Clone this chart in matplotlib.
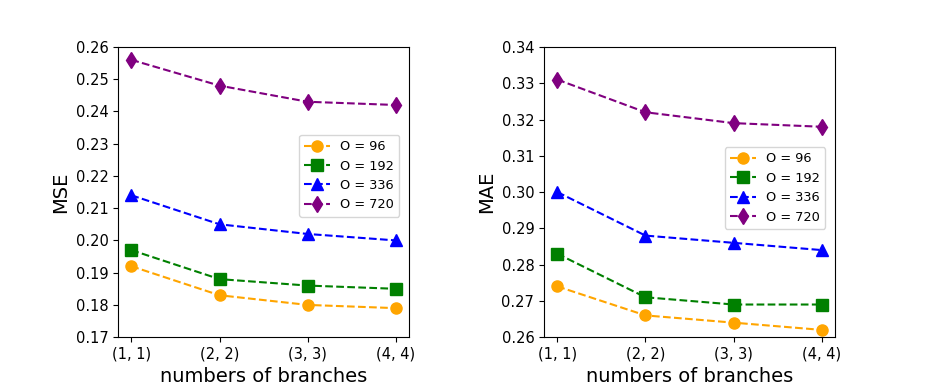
import matplotlib
matplotlib.use('Agg')
import matplotlib.pyplot as plt

branches = ['(1, 1)', '(2, 2)', '(3, 3)', '(4, 4)']
labels = ['O = 96', 'O = 192', 'O = 336', 'O = 720']
colors = ['orange', 'green', 'blue', 'purple']
markers = ['o', 's', '^', 'd']

# MSE values
mse_96 = [0.192, 0.183, 0.180, 0.179]
mse_192 = [0.197, 0.188, 0.186, 0.185]
mse_336 = [0.214, 0.205, 0.202, 0.200]
mse_720 = [0.256, 0.248, 0.243, 0.242]

# MAE values
mae_96 = [0.274, 0.266, 0.264, 0.262]
mae_192 = [0.283, 0.271, 0.269, 0.269]
mae_336 = [0.300, 0.288, 0.286, 0.284]
mae_720 = [0.331, 0.322, 0.319, 0.318]

mse_ticks = [0.17, 0.18, 0.19, 0.20, 0.21, 0.22, 0.23, 0.24, 0.25, 0.26]
mae_ticks = [0.26, 0.27, 0.28, 0.29, 0.30, 0.31, 0.32, 0.33, 0.34]


def draw_panel(ax, series, ylabel, yticks, legend_anchor):
    x = range(len(branches))
    for vals, lab, c, m in zip(series, labels, colors, markers):
        ax.plot(x, vals, linestyle='--', marker=m, color=c, label=lab,
                markersize=8, linewidth=1.5)
    ax.set_xticks(list(x))
    ax.set_xticklabels(branches, fontsize=10.5)
    ax.set_yticks(yticks)
    ax.set_yticklabels([f"{t:.2f}" for t in yticks], fontsize=10.5)
    ax.set_ylim(yticks[0], yticks[-1])
    ax.set_ylabel(ylabel, fontsize=14)
    ax.set_xlabel("numbers of branches", fontsize=14)
    ax.legend(loc='upper right', bbox_to_anchor=legend_anchor,
              borderaxespad=0, fontsize=9.3)


fig = plt.figure(figsize=(9.3, 3.88), dpi=100)
ax1 = fig.add_axes([0.127, 0.131, 0.313, 0.748])
ax2 = fig.add_axes([0.585, 0.131, 0.313, 0.748])

draw_panel(ax1, [mse_96, mse_192, mse_336, mse_720], "MSE", mse_ticks, (0.966, 0.697))
draw_panel(ax2, [mae_96, mae_192, mae_336, mae_720], "MAE", mae_ticks, (0.966, 0.655))

fig.savefig("out.png", dpi=100)
